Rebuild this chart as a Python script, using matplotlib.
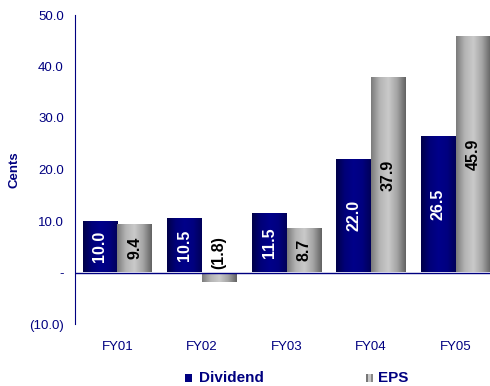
import numpy as np
import matplotlib
matplotlib.use('Agg')
import matplotlib.pyplot as plt
from matplotlib.colors import LinearSegmentedColormap
from matplotlib.patches import Rectangle

plt.rcParams['font.family'] = ['Liberation Sans', 'DejaVu Sans']

years = ['FY01', 'FY02', 'FY03', 'FY04', 'FY05']
dividend = [10.0, 10.5, 11.5, 22.0, 26.5]
eps = [9.4, -1.8, 8.7, 37.9, 45.9]
yticks = [-10, 0, 10, 20, 30, 40, 50]

navy = '#000080'
div_cmap = LinearSegmentedColormap.from_list('div', ['#000048', '#000078', '#00008a', '#000080', '#000058'])
eps_cmap = LinearSegmentedColormap.from_list('eps', ['#7a7a7a', '#b4b4b4', '#cacaca', '#a4a4a4', '#626262'])


def fmt(v):
    if v == 0:
        return '-'
    if v < 0:
        return '(%.1f)' % -v
    return '%.1f' % v


def grad_bar(ax, x, w, h, cmap):
    # bar filled with a horizontal shading so it looks like a cylinder
    rect = Rectangle((x, min(0, h)), w, abs(h), facecolor='none', edgecolor='none')
    ax.add_patch(rect)
    g = np.linspace(0, 1, 256).reshape(1, -1)
    im = ax.imshow(g, cmap=cmap, aspect='auto', interpolation='bilinear',
                   extent=(x, x + w, min(0, h), max(0, h)), zorder=2)
    im.set_clip_path(rect)


fig = plt.figure(figsize=(4.9, 3.86), dpi=100)
ax = fig.add_axes([75 / 490, 62 / 386, 423 / 490, 309 / 386])

w = 0.41
xs = np.arange(len(years))
for i in xs:
    grad_bar(ax, i - w, w, dividend[i], div_cmap)
    grad_bar(ax, i, w, eps[i], eps_cmap)
    ax.text(i - w / 2, dividend[i] / 2, fmt(dividend[i]), rotation=90, ha='center', va='center',
            color='white', fontsize=11.5, fontweight='bold', zorder=4)
    if eps[i] > 0:
        ax.text(i + w / 2, eps[i] / 2, fmt(eps[i]), rotation=90, ha='center', va='center',
                color='black', fontsize=11.5, fontweight='bold', zorder=4)
    else:
        ax.text(i + w / 2, 0.6, fmt(eps[i]), rotation=90, ha='center', va='bottom',
                color='black', fontsize=11.5, fontweight='bold', zorder=4)

ax.axhline(0, color=navy, lw=1, zorder=3)
ax.set_xlim(-0.5, len(years) - 0.5)
ax.set_ylim(-10, 50)
ax.set_yticks(yticks)
ax.set_yticklabels([fmt(v) for v in yticks])
ax.set_xticks(xs)
ax.set_xticklabels(years)
ax.tick_params(axis='both', length=0, colors=navy, labelsize=9.5)
ax.tick_params(axis='y', pad=8)
ax.tick_params(axis='x', pad=12)
for s in ['top', 'right', 'bottom']:
    ax.spines[s].set_visible(False)
ax.spines['left'].set_color(navy)
ax.set_ylabel('Cents', color=navy, fontsize=9.5, fontweight='bold')
ax.yaxis.set_label_coords(-0.13, 0.5)

# legend along the bottom
fig.patches.append(Rectangle((185 / 490, 4 / 386), 7 / 490, 8 / 386, transform=fig.transFigure,
                             facecolor=navy, edgecolor='none'))
fig.text(199 / 490, 8 / 386, 'Dividend', color=navy, fontsize=11, fontweight='bold', va='center')
for k, c in enumerate(['#777777', '#c8c8c8', '#888888']):
    fig.patches.append(Rectangle(((366 + 2.3 * k) / 490, 4 / 386), 2.3 / 490, 8 / 386,
                                 transform=fig.transFigure, facecolor=c, edgecolor='none'))
fig.text(378 / 490, 8 / 386, 'EPS', color=navy, fontsize=11, fontweight='bold', va='center')

fig.savefig('out.png', dpi=100)
